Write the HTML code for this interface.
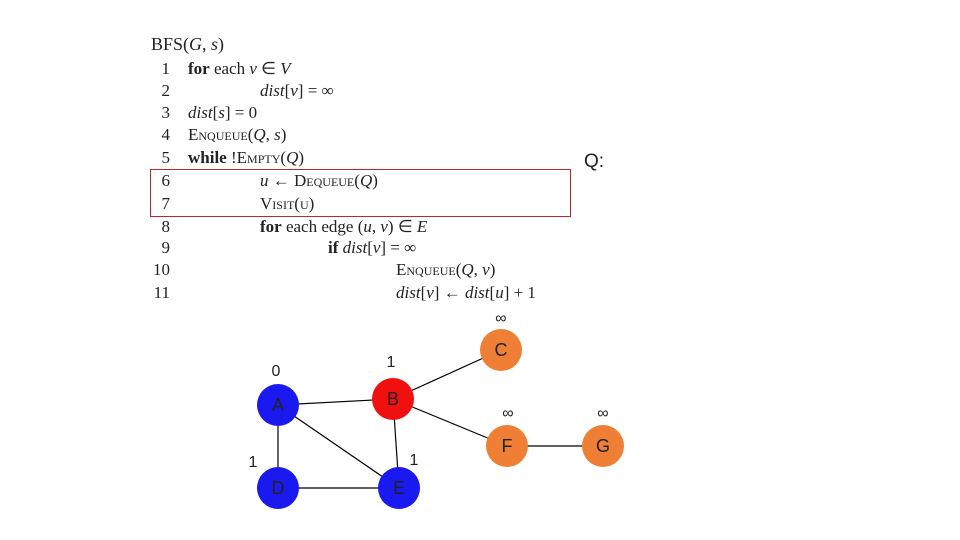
<!DOCTYPE html>
<html><head><meta charset="utf-8"><style>
body{margin:0;background:#fff;}
#c{position:relative;width:960px;height:540px;overflow:hidden;font-family:"Liberation Serif",serif;color:#222;}
.t{position:absolute;font-size:17px;white-space:nowrap;line-height:20px;}
.n{position:absolute;width:20px;text-align:right;font-size:17px;line-height:20px;left:150px;}
i{font-style:italic}
.sc{font-variant:small-caps}
</style></head><body><div id="c">
<div class="t" style="left:151px;top:34px;font-size:18px">BFS(<i>G</i>, <i>s</i>)</div>
<div class="n" style="top:59px">1</div><div class="t" style="left:188px;top:59px"><b>for</b> each <i>v</i> ∈ <i>V</i></div>
<div class="n" style="top:81px">2</div><div class="t" style="left:260px;top:81px"><i>dist</i>[<i>v</i>] = ∞</div>
<div class="n" style="top:103px">3</div><div class="t" style="left:188px;top:103px"><i>dist</i>[<i>s</i>] = 0</div>
<div class="n" style="top:125px">4</div><div class="t" style="left:188px;top:125px"><span class="sc">Enqueue</span>(<i>Q</i>, <i>s</i>)</div>
<div class="n" style="top:148px">5</div><div class="t" style="left:188px;top:148px"><b>while</b> !<span class="sc">Empty</span>(<i>Q</i>)</div>
<div class="n" style="top:171px">6</div><div class="t" style="left:260px;top:171px"><i>u</i> ← <span class="sc">Dequeue</span>(<i>Q</i>)</div>
<div class="n" style="top:194px">7</div><div class="t" style="left:260px;top:194px"><span class="sc">Visit</span>(<span class="sc">u</span>)</div>
<div class="n" style="top:217px">8</div><div class="t" style="left:260px;top:217px"><b>for</b> each edge (<i>u</i>, <i>v</i>) ∈ <i>E</i></div>
<div class="n" style="top:238px">9</div><div class="t" style="left:328px;top:238px"><b>if</b> <i>dist</i>[<i>v</i>] = ∞</div>
<div class="n" style="top:260px">10</div><div class="t" style="left:396px;top:260px"><span class="sc">Enqueue</span>(<i>Q</i>, <i>v</i>)</div>
<div class="n" style="top:283px">11</div><div class="t" style="left:396px;top:283px"><i>dist</i>[<i>v</i>] ← <i>dist</i>[<i>u</i>] + 1</div>
<div style="position:absolute;left:150px;top:169px;width:419px;height:46px;border:1px solid #c0272d"></div>
<div class="t" style="left:584px;top:152px;font-family:'Liberation Sans',sans-serif;font-size:19px">Q:</div>
<svg width="960" height="540" style="position:absolute;left:0;top:0" font-family="Liberation Sans, sans-serif">
<g stroke="#000" stroke-width="1.2">
<line x1="278" y1="405" x2="393" y2="399"/><line x1="278" y1="405" x2="278" y2="488"/>
<line x1="278" y1="405" x2="399" y2="488"/><line x1="278" y1="488" x2="399" y2="488"/>
<line x1="393" y1="399" x2="399" y2="488"/><line x1="393" y1="399" x2="501" y2="350"/>
<line x1="393" y1="399" x2="507" y2="446"/><line x1="507" y1="446" x2="603" y2="446"/>
</g>
<g font-size="18" text-anchor="middle" fill="#222">
<circle cx="278" cy="405" r="21" fill="#1a1af0"/><text x="278" y="411">A</text>
<circle cx="393" cy="399" r="21" fill="#f01010"/><text x="393" y="405">B</text>
<circle cx="501" cy="350" r="21" fill="#ee7f35"/><text x="501" y="356">C</text>
<circle cx="278" cy="488" r="21" fill="#1a1af0"/><text x="278" y="494">D</text>
<circle cx="399" cy="488" r="21" fill="#1a1af0"/><text x="399" y="494">E</text>
<circle cx="507" cy="446" r="21" fill="#ee7f35"/><text x="507" y="452">F</text>
<circle cx="603" cy="446" r="21" fill="#ee7f35"/><text x="603" y="452">G</text>
<g font-size="16">
<text x="276" y="376">0</text><text x="391" y="367">1</text><text x="253" y="467">1</text><text x="414" y="465">1</text>
<text x="501" y="323">∞</text><text x="508" y="418">∞</text><text x="603" y="418">∞</text>
</g></g></svg>
</div></body></html>
